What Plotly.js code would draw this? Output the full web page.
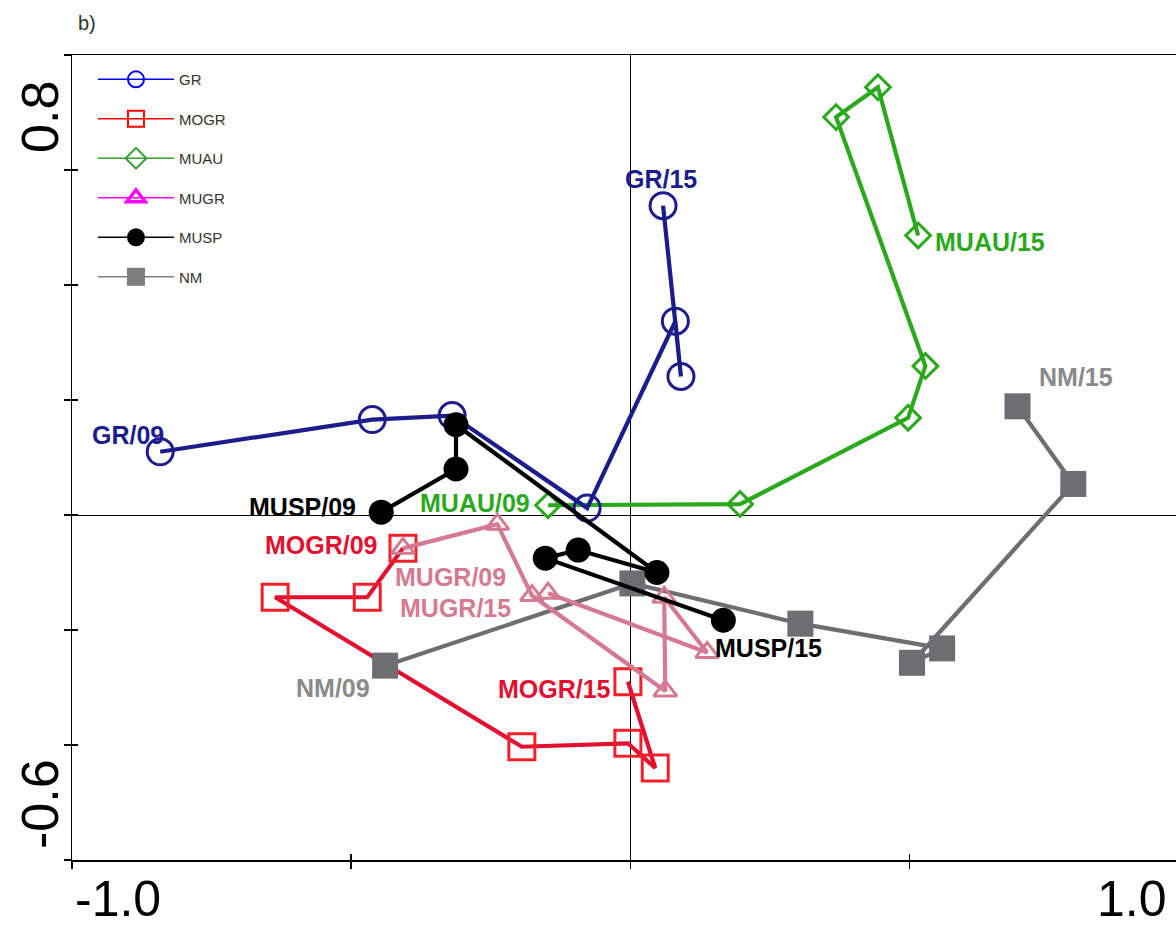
<!DOCTYPE html>
<html>
<head>
<meta charset="utf-8">
<script src="https://cdn.plot.ly/plotly-3.0.1.min.js"></script>
<style>html,body{margin:0;padding:0;background:#fff;}#chart{width:1176px;height:930px;}</style>
</head>
<body>
<div id="chart"></div>
<script>
// Series names and year labels
var seriesNames = ["GR", "MOGR", "MUAU", "MUGR", "MUSP", "NM"];
var years = ["09", "10", "11", "12", "13", "14", "15"];

// Ordination scores (axis 1, axis 2), one point per year 2009..2015
var grX   = [-0.842, -0.462, -0.319, -0.077, 0.081, 0.091, 0.059];
var grY   = [ 0.110,  0.166,  0.173,  0.012, 0.337, 0.241, 0.538];
var mogrX = [-0.407, -0.471, -0.636, -0.194, -0.004, 0.045, -0.004];
var mogrY = [-0.058, -0.143, -0.143, -0.403, -0.397, -0.440, -0.290];
var muauX = [-0.147, 0.197, 0.498, 0.529, 0.369, 0.444, 0.516];
var muauY = [ 0.017, 0.019, 0.169, 0.259, 0.692, 0.744, 0.486];
var mugrX = [-0.407, -0.238, -0.176, 0.063, 0.061, 0.138, -0.147];
var mugrY = [-0.058, -0.016, -0.140, -0.306, -0.143, -0.239, -0.136];
var muspX = [-0.446, -0.312, -0.312, 0.048, -0.093, -0.152, 0.167];
var muspY = [ 0.005,  0.080,  0.157, -0.100, -0.061, -0.075, -0.183];
var nmX   = [-0.439, 0.004, 0.305, 0.559, 0.505, 0.794, 0.694];
var nmY   = [-0.262, -0.119, -0.189, -0.232, -0.257, 0.054, 0.189];

// Axis tick values
var xTicks = [-1.0, -0.5, 0, 0.5];
var yTicks = [-0.6, -0.4, -0.2, 0, 0.2, 0.4, 0.6, 0.8];

var FONT = "Liberation Sans, Arial, sans-serif";

function series(x, y, lineColor, sym, size, mColor, mLineW) {
  return {
    type: "scatter", mode: "lines+markers", x: x, y: y, showlegend: false,
    text: years, hoverinfo: "text+x+y",
    line: {color: lineColor, width: 4.2},
    marker: {symbol: sym, size: size, color: mColor,
             line: {color: mColor, width: mLineW}}
  };
}

var traces = [
  series(muauX, muauY, "#2aa91c", "diamond-open", 19, "#2aa91c", 3),
  series(grX, grY, "#1c1c8c", "circle-open", 26, "#1c1c8c", 3),
  series(mogrX, mogrY, "#e3102f", "square-open", 26, "#f2202a", 3),
  series(nmX, nmY, "#6d6d72", "square", 26, "#6d6d72", 0),
  series(mugrX, mugrY, "#d57a93", "triangle-up-open", 20, "#d57a93", 3),
  series(muspX, muspY, "#000000", "circle", 25, "#000000", 0)
];

// legend-only entries (legend uses brighter colours as in the original)
var legSyms = ["circle-open", "square-open", "diamond-open", "triangle-up-open", "circle", "square"];
var legCols = ["#0000ff", "#ff0000", "#33a033", "#ff00ff", "#000000", "#7f7f7f"];
var legLineW = [2, 2, 2, 3.5, 2, 2];
seriesNames.forEach(function (n, i) {
  traces.push({
    type: "scatter", mode: "lines+markers", x: [null], y: [null], name: n,
    legendgroup: n, showlegend: true,
    line: {color: legCols[i], width: 1.5},
    marker: {symbol: legSyms[i], size: 16, color: legCols[i], line: {color: legCols[i], width: legLineW[i]}}
  });
});
// dummy for overlay tick axes
traces.push({type: "scatter", mode: "markers", x: [null], y: [null], xaxis: "x2", yaxis: "y2", showlegend: false, hoverinfo: "skip"});

function lab(text, x, y, color, xanchor, xs, ys) {
  return {text: "<b>" + text + "</b>", x: x, y: y, xref: "x", yref: "y", showarrow: false,
          xanchor: xanchor, yanchor: "middle", xshift: xs, yshift: ys,
          font: {family: FONT, size: 25, color: color}};
}

var annotations = [
  lab("GR/09", grX[0], grY[0], "#1c1c8c", "center", -32, 17),
  lab("GR/15", grX[6], grY[6], "#1c1c8c", "center", -2, 27),
  lab("MUAU/09", muauX[0], muauY[0], "#2aa91c", "right", -16, 2),
  lab("MUAU/15", muauX[6], muauY[6], "#2aa91c", "left", 15, -6),
  lab("NM/09", nmX[0], nmY[0], "#8a8a8a", "right", -13, -22),
  lab("NM/15", nmX[6], nmY[6], "#8a8a8a", "left", 20, 29),
  lab("MUSP/09", muspX[0], muspY[0], "#000000", "right", -23, 5),
  lab("MUSP/15", muspX[6], muspY[6], "#000000", "left", -10, -28),
  lab("MOGR/09", mogrX[0], mogrY[0], "#e3102f", "right", -23, 3),
  lab("MOGR/15", mogrX[6], mogrY[6], "#e3102f", "right", -15, -7),
  lab("MUGR/09", mugrX[0], mugrY[0], "#d57a93", "left", -10, -29),
  lab("MUGR/15", mugrX[6], mugrY[6], "#d57a93", "right", -35, -15),
  // axis end labels
  {text: "-1.0", xref: "paper", yref: "paper", x: 0.0417, y: -0.049, showarrow: false,
   xanchor: "center", yanchor: "middle", font: {family: FONT, size: 50, color: "#000"}},
  {text: "1.0", xref: "paper", yref: "paper", x: 0.960, y: -0.049, showarrow: false,
   xanchor: "center", yanchor: "middle", font: {family: FONT, size: 50, color: "#000"}},
  {text: "0.8", xref: "paper", yref: "paper", x: -0.029, y: 0.923, showarrow: false, textangle: -90,
   xanchor: "center", yanchor: "middle", font: {family: FONT, size: 52, color: "#000"}},
  {text: "-0.6", xref: "paper", yref: "paper", x: -0.029, y: 0.0696, showarrow: false, textangle: -90,
   xanchor: "center", yanchor: "middle", font: {family: FONT, size: 52, color: "#000"}},
  {text: "b)", xref: "paper", yref: "paper", x: 0.004, y: 1.04, showarrow: false,
   xanchor: "left", yanchor: "middle", font: {family: FONT, size: 20, color: "#333"}}
];

var layout = {
  width: 1176, height: 930,
  margin: {l: 72, r: 0, t: 55, b: 70, pad: 0},
  paper_bgcolor: "#fff", plot_bgcolor: "#fff",
  font: {family: FONT, color: "#000"},
  showlegend: true,
  legend: {x: 0.019, y: 0.99, xanchor: "left", yanchor: "top", bgcolor: "rgba(0,0,0,0)",
           font: {family: FONT, size: 15, color: "#333"}, itemsizing: "trace",
           tracegroupgap: 17, itemwidth: 76, traceorder: "grouped"},
  xaxis: {range: [-1.0, 0.978], showgrid: false, zeroline: true, zerolinecolor: "#000", zerolinewidth: 1,
          showline: true, linecolor: "#000", linewidth: 1.5, mirror: true,
          ticks: "outside", ticklen: 7, tickwidth: 1.2, tickcolor: "#000",
          tickvals: xTicks, showticklabels: false},
  yaxis: {range: [-0.6, 0.8], showgrid: false, zeroline: true, zerolinecolor: "#000", zerolinewidth: 1,
          showline: true, linecolor: "#000", linewidth: 1.5,
          ticks: "outside", ticklen: 7, tickwidth: 1.2, tickcolor: "#000",
          tickvals: yTicks, showticklabels: false},
  xaxis2: {overlaying: "x", matches: "x", anchor: "y", side: "bottom", showgrid: false, zeroline: false,
           showline: false, ticks: "inside", ticklen: 6, tickwidth: 1.2, tickcolor: "#000",
           tickvals: xTicks, showticklabels: false},
  yaxis2: {overlaying: "y", matches: "y", anchor: "x", side: "left", showgrid: false, zeroline: false,
           showline: false, ticks: "inside", ticklen: 6, tickwidth: 1.2, tickcolor: "#000",
           tickvals: yTicks, showticklabels: false},
  annotations: annotations
};

Plotly.newPlot("chart", traces, layout, {displayModeBar: false, staticPlot: true});
</script>
</body>
</html>
